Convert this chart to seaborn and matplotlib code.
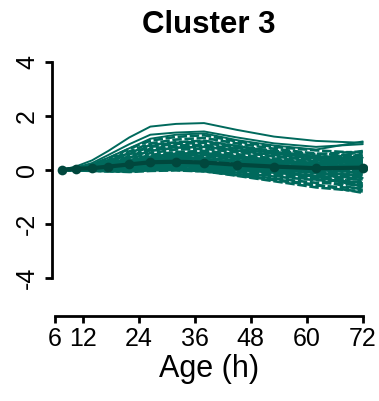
import numpy as np
import pandas as pd
import matplotlib
matplotlib.use("Agg")
import matplotlib.pyplot as plt
import seaborn as sns

# ---- data ----
times = [7.5, 10.5, 14, 17.5, 22, 26.5, 32, 38, 45, 53, 62, 72]
x_ticks = [6, 12, 24, 36, 48, 60, 72]
y_ticks = [-4, -2, 0, 2, 4]
title = "Cluster 3"
x_label = "Age (h)"

solid_profiles = [
    [0, 0.12, 0.35, 0.70, 1.20, 1.60, 1.70, 1.73, 1.48, 1.23, 1.07, 1.00],
    [0, 0.08, 0.25, 0.55, 0.95, 1.30, 1.38, 1.42, 1.20, 0.98, 0.85, 0.95],
    [0, 0.07, 0.20, 0.45, 0.80, 1.15, 1.30, 1.35, 1.10, 0.90, 0.75, 1.05],
    [0, 0.02, 0.06, 0.14, 0.28, 0.44, 0.52, 0.54, 0.42, 0.30, 0.22, 0.45],
    [0, 0.00, 0.01, 0.03, 0.08, 0.14, 0.15, 0.12, 0.02, -0.10, -0.22, -0.30],
    [0, 0.01, 0.04, 0.10, 0.22, 0.35, 0.42, 0.42, 0.30, 0.15, 0.05, -0.10],
]

dashed_profiles = [
    [0, 0.06, 0.20, 0.42, 0.78, 1.08, 1.22, 1.28, 1.05, 0.85, 0.72, 0.62],
    [0, 0.05, 0.16, 0.36, 0.68, 0.98, 1.12, 1.18, 0.98, 0.78, 0.60, 0.50],
    [0, 0.05, 0.14, 0.33, 0.62, 0.92, 1.02, 1.08, 0.88, 0.66, 0.52, 0.38],
    [0, 0.04, 0.12, 0.30, 0.58, 0.85, 0.96, 1.00, 0.82, 0.62, 0.48, 0.55],
    [0, 0.04, 0.10, 0.26, 0.50, 0.78, 0.90, 0.92, 0.78, 0.60, 0.45, 0.30],
    [0, 0.03, 0.10, 0.22, 0.45, 0.70, 0.82, 0.85, 0.72, 0.55, 0.42, 0.48],
    [0, 0.03, 0.08, 0.20, 0.40, 0.62, 0.75, 0.78, 0.65, 0.50, 0.35, 0.25],
    [0, 0.03, 0.08, 0.18, 0.35, 0.55, 0.66, 0.70, 0.58, 0.42, 0.32, 0.40],
    [0, 0.02, 0.06, 0.15, 0.30, 0.48, 0.60, 0.62, 0.50, 0.36, 0.25, 0.15],
    [0, 0.02, 0.06, 0.14, 0.28, 0.42, 0.52, 0.55, 0.45, 0.32, 0.22, 0.30],
    [0, 0.02, 0.05, 0.12, 0.24, 0.38, 0.46, 0.48, 0.38, 0.25, 0.15, 0.10],
    [0, 0.02, 0.04, 0.10, 0.20, 0.32, 0.40, 0.42, 0.32, 0.20, 0.10, 0.20],
    [0, 0.01, 0.04, 0.09, 0.18, 0.28, 0.34, 0.35, 0.26, 0.15, 0.05, 0.00],
    [0, 0.01, 0.03, 0.08, 0.15, 0.24, 0.28, 0.28, 0.20, 0.10, 0.02, 0.12],
    [0, 0.01, 0.03, 0.06, 0.12, 0.20, 0.22, 0.20, 0.10, 0.00, -0.08, -0.05],
    [0, 0.00, 0.02, 0.05, 0.10, 0.16, 0.18, 0.15, 0.05, -0.05, -0.12, -0.20],
    [0, 0.00, 0.01, 0.04, 0.08, 0.12, 0.14, 0.10, 0.00, -0.10, -0.20, -0.15],
    [0, 0.00, 0.00, 0.02, 0.05, 0.10, 0.10, 0.06, -0.05, -0.18, -0.30, -0.35],
    [0, -0.01, -0.01, 0.00, 0.03, 0.07, 0.07, 0.02, -0.10, -0.25, -0.38, -0.45],
    [0, -0.01, -0.02, -0.02, 0.00, 0.04, 0.04, -0.01, -0.15, -0.32, -0.48, -0.55],
    [0, -0.02, -0.03, -0.04, -0.03, 0.02, 0.02, -0.03, -0.20, -0.38, -0.58, -0.70],
    [0, -0.02, -0.04, -0.06, -0.06, -0.02, 0.00, -0.05, -0.22, -0.42, -0.65, -0.80],
    [0, -0.01, -0.03, -0.05, -0.08, -0.04, -0.02, -0.06, -0.18, -0.35, -0.55, -0.85],
    [0, 0.01, 0.02, 0.05, 0.10, 0.18, 0.22, 0.20, 0.12, 0.02, -0.05, 0.35],
    [0, 0.02, 0.05, 0.10, 0.20, 0.30, 0.36, 0.36, 0.28, 0.18, 0.10, 0.55],
    [0, 0.03, 0.07, 0.16, 0.32, 0.50, 0.58, 0.60, 0.48, 0.35, 0.28, 0.70],
    [0, 0.01, 0.03, 0.07, 0.14, 0.22, 0.26, 0.24, 0.15, 0.05, -0.02, -0.30],
    [0, 0.02, 0.04, 0.08, 0.16, 0.26, 0.30, 0.30, 0.20, 0.08, -0.02, -0.60],
    [0, 0.01, 0.02, 0.04, 0.09, 0.16, 0.18, 0.14, 0.04, -0.08, -0.25, -0.62],
    [0, 0.03, 0.08, 0.17, 0.34, 0.52, 0.62, 0.66, 0.52, 0.38, 0.22, 0.10],
    [0, 0.04, 0.11, 0.25, 0.48, 0.72, 0.84, 0.88, 0.70, 0.50, 0.36, 0.22],
    [0, 0.05, 0.13, 0.30, 0.58, 0.88, 1.00, 1.05, 0.88, 0.70, 0.58, 0.68],
    [0, 0.03, 0.05, 0.10, 0.18, 0.26, 0.28, 0.25, 0.18, 0.12, 0.08, 0.15],
    [0, 0.02, 0.04, 0.08, 0.14, 0.22, 0.24, 0.20, 0.12, 0.05, 0.00, 0.05],
    [0, 0.04, 0.07, 0.14, 0.24, 0.34, 0.38, 0.36, 0.28, 0.20, 0.14, 0.22],
    [0, 0.03, 0.06, 0.12, 0.20, 0.30, 0.32, 0.28, 0.18, 0.08, 0.00, -0.12],
    [0, 0.01, 0.02, 0.06, 0.12, 0.18, 0.20, 0.16, 0.08, -0.02, -0.10, -0.25],
    [0, 0.05, 0.09, 0.17, 0.28, 0.40, 0.44, 0.42, 0.34, 0.26, 0.20, 0.35],
    [0, 0.02, 0.03, 0.07, 0.13, 0.21, 0.23, 0.19, 0.10, 0.02, -0.05, -0.40],
    [0, 0.00, -0.01, 0.01, 0.06, 0.12, 0.12, 0.08, -0.02, -0.14, -0.28, -0.50],
    [0, 0.04, 0.08, 0.15, 0.26, 0.36, 0.40, 0.38, 0.30, 0.22, 0.16, 0.05],
    [0, 0.03, 0.05, 0.09, 0.16, 0.24, 0.26, 0.22, 0.14, 0.06, 0.02, 0.25],
    [0, 0.06, 0.11, 0.20, 0.34, 0.48, 0.54, 0.52, 0.42, 0.32, 0.24, 0.12],
    [0, 0.01, 0.01, 0.03, 0.07, 0.13, 0.14, 0.10, 0.00, -0.12, -0.24, -0.65],
    [0, 0.02, 0.05, 0.11, 0.22, 0.33, 0.38, 0.37, 0.27, 0.16, 0.08, -0.05],
    [0, 0.00, 0.01, 0.02, 0.04, 0.08, 0.08, 0.04, -0.08, -0.22, -0.36, -0.75],
]

mean_profile = [0, 0.04, 0.06, 0.12, 0.20, 0.28, 0.30, 0.27, 0.19, 0.12, 0.06, 0.08]

# ---- build long-form tables ----
def to_long(profiles, prefix):
    rows = []
    for i, prof in enumerate(profiles):
        for t, v in zip(times, prof):
            rows.append({"gene": f"{prefix}{i:03d}", "time": t, "value": v})
    return pd.DataFrame(rows)

df_solid = to_long(solid_profiles, "s")
df_dashed = to_long(dashed_profiles, "d")
df_mean = pd.DataFrame({"time": times, "value": mean_profile})

teal = "#00695C"
dark = "#00473D"

sns.set_theme(style="white")
plt.rcParams["font.family"] = ["Liberation Sans", "DejaVu Sans"]

W, H = 379, 401
fig = plt.figure(figsize=(W / 100, H / 100), dpi=100)

# axes geometry (pixels)
x0_px, x1_px = 51.7, 367.4
y_top_px, y_bot_px = 60.4, 316.0
ax = fig.add_axes([x0_px / W, 1 - y_bot_px / H, (x1_px - x0_px) / W, (y_bot_px - y_top_px) / H])

sns.lineplot(data=df_dashed, x="time", y="value", units="gene", estimator=None,
             color=teal, linewidth=1.9, dashes=False, ax=ax, legend=False)
# stagger dash phase so the dashes of neighbouring lines do not line up
for i, line in enumerate(ax.get_lines()):
    line.set_linestyle(((i * 2.3) % 4.6, (3.6, 1.0)))
sns.lineplot(data=df_solid, x="time", y="value", units="gene", estimator=None,
             color=teal, linewidth=1.4, ax=ax, legend=False)
sns.lineplot(data=df_mean, x="time", y="value", color=dark, linewidth=3.0,
             marker="o", markersize=7, markeredgewidth=0, ax=ax, legend=False)

ax.set_xlim(5.36, 73.0)
ax.set_ylim(-5.41, 4.05)
sns.despine(ax=ax)
ax.spines["left"].set_bounds(-4, 4)
ax.spines["bottom"].set_bounds(6, 72)
for s in ("left", "bottom"):
    ax.spines[s].set_linewidth(2.0)
    ax.spines[s].set_color("black")

ax.set_xticks(x_ticks)
ax.set_xticklabels([str(v) for v in x_ticks])
ax.set_yticks(y_ticks)
ax.set_yticklabels([str(v) for v in y_ticks], rotation=90, va="center")
ax.tick_params(axis="both", which="both", direction="out", length=5, width=2.0,
               color="black", labelsize=18, labelcolor="black", bottom=True, left=True)
ax.tick_params(axis="x", pad=3)
ax.tick_params(axis="y", pad=4)

ax.set_xlabel(x_label, fontsize=22, color="black", labelpad=2)
ax.set_ylabel("")
fig.text(0.5 * (x0_px + 362.7) / W + 0.005, 1 - 25 / H, title, fontsize=22.5, fontweight="bold",
         ha="center", va="center", color="black")

fig.savefig("out.png", dpi=100, facecolor="white")
